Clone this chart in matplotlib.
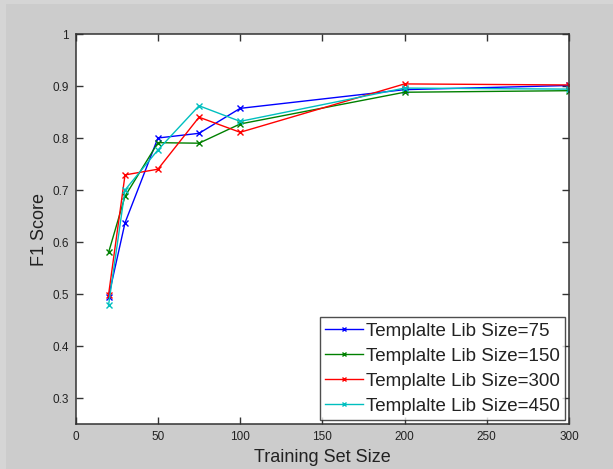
import matplotlib
matplotlib.use("Agg")
import matplotlib.pyplot as plt
from matplotlib.patches import Rectangle

plt.rcParams['font.family'] = ['Liberation Sans', 'DejaVu Sans']

train_sizes = [20, 30, 50, 75, 100, 200, 300]
lib_75 = [0.495, 0.637, 0.800, 0.809, 0.857, 0.893, 0.901]
lib_150 = [0.580, 0.688, 0.791, 0.790, 0.827, 0.888, 0.891]
lib_300 = [0.499, 0.729, 0.740, 0.840, 0.811, 0.904, 0.902]
lib_450 = [0.479, 0.700, 0.777, 0.862, 0.832, 0.896, 0.894]
labels = ['Templalte Lib Size=75', 'Templalte Lib Size=150',
          'Templalte Lib Size=300', 'Templalte Lib Size=450']
colors = ['#0000ff', '#008000', '#ff0000', '#00bfbf']
x_ticks = [0, 50, 100, 150, 200, 250, 300]
y_ticks = [0.3, 0.4, 0.5, 0.6, 0.7, 0.8, 0.9, 1.0]
y_ticklabels = ['0.3', '0.4', '0.5', '0.6', '0.7', '0.8', '0.9', '1']

fig = plt.figure(figsize=(6.13, 4.69), dpi=100, facecolor='#cccccc')
# lighter frame strip along the top and left edges of the window
fig.patches.append(Rectangle((0, 0), 6 / 613, 1, transform=fig.transFigure,
                             facecolor='#d5d5d5', edgecolor='none', zorder=0))
fig.patches.append(Rectangle((0, 1 - 4 / 469), 1, 4 / 469, transform=fig.transFigure,
                             facecolor='#d5d5d5', edgecolor='none', zorder=0))

ax = fig.add_axes([75.7 / 613, 1 - 424 / 469, (569 - 75.7) / 613, (424 - 34) / 469])
ax.set_facecolor('white')

for ys, lab, c in zip([lib_75, lib_150, lib_300, lib_450], labels, colors):
    ax.plot(train_sizes, ys, color=c, lw=1.0, marker='x', ms=5, mew=1.0, label=lab)

ax.set_xlim(0, 300)
ax.set_ylim(0.25, 1.0)
ax.set_xticks(x_ticks)
ax.set_yticks(y_ticks)
ax.set_yticklabels(y_ticklabels)
ax.tick_params(direction='in', length=5, width=1, color='#333333',
               top=True, right=True, labelsize=8.5, labelcolor='#222222', pad=5)
for sp in ax.spines.values():
    sp.set_color('#333333')
    sp.set_linewidth(1.1)

ax.set_xlabel('Training Set Size', fontsize=13, color='#222222', labelpad=4)
ax.set_ylabel('F1 Score', fontsize=13, color='#222222', labelpad=3)

leg = ax.legend(loc='lower right', fontsize=13.5, frameon=True, fancybox=False,
                handlelength=2.0, handletextpad=0.15, borderaxespad=0.2,
                labelspacing=0.42, borderpad=0.3, numpoints=1, markerscale=0.7)
leg.get_frame().set_edgecolor('#222222')
leg.get_frame().set_linewidth(1.0)
for t in leg.get_texts():
    t.set_color('#222222')

fig.savefig('out.png', dpi=100, facecolor=fig.get_facecolor())
